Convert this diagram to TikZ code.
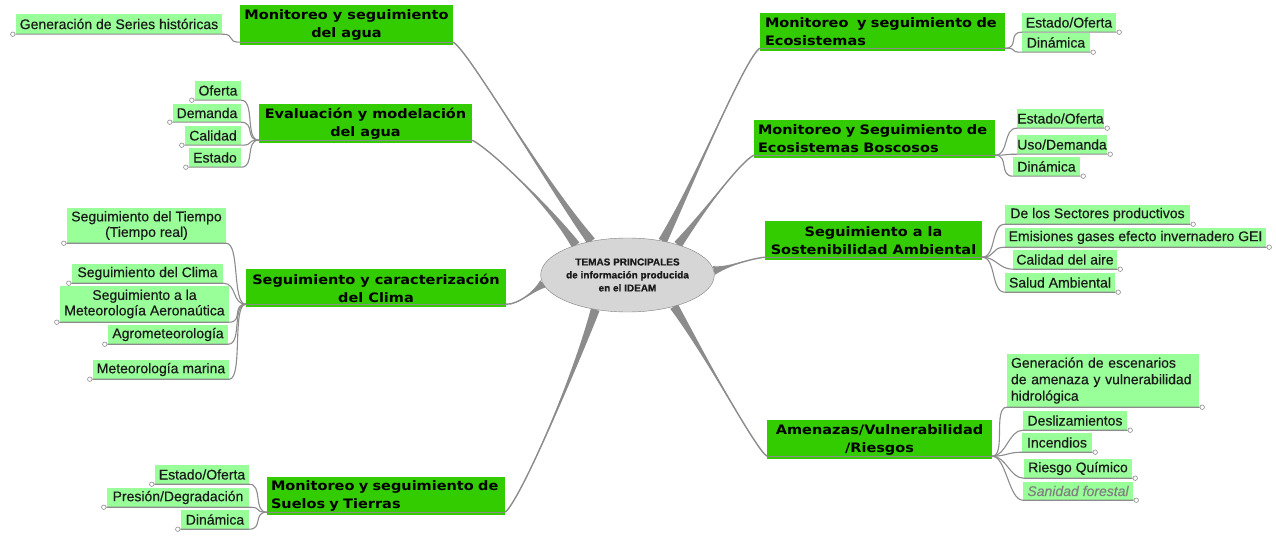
\documentclass[tikz,border=0pt]{standalone}
\usepackage{fontspec}
\setmainfont{Liberation Sans}[FakeBold=0.4]
\newfontfamily\mf{DejaVu Sans}[FakeStretch=1.115]
\usetikzlibrary{calc,shapes.geometric}
\definecolor{mgreen}{HTML}{33CC00}
\definecolor{sgreen}{HTML}{99FF99}
\definecolor{lgray}{HTML}{8C8C8C}
\definecolor{egray}{HTML}{D6D6D6}
\definecolor{txt}{HTML}{1A1A1A}
\pgfdeclarelayer{back}
\pgfdeclarelayer{bg}
\pgfsetlayers{back,bg,main}
\newcommand\brnch[4]{%
  \fill[lgray] ($(#1)!4.5pt!90:(#2)$) .. controls (#2) and (#3) .. (#4) .. controls (#3) and (#2) .. ($(#1)!4.5pt!-90:(#2)$) -- cycle;
  \draw[lgray, line width=1.4pt] (#1) .. controls (#2) and (#3) .. (#4);}
\begin{document}
\begin{tikzpicture}[x=1pt,y=-1pt,
  mainbox/.style={fill=mgreen, inner sep=0pt, font=\mf\bfseries\fontsize{13}{18}\selectfont, text=black},
  subbox/.style={fill=sgreen, inner sep=0pt, font=\fontsize{14}{15.5}\selectfont, text=txt},
  sub/.style={draw=lgray, line width=1.1pt},
  mline/.style={draw=lgray, line width=1.3pt},
  dot/.style={circle, draw=lgray, fill=white, line width=0.6pt, inner sep=0pt, minimum size=4.5pt},
]
\begin{pgfonlayer}{back}
\fill[white] (0,0) rectangle (1276,540);
\end{pgfonlayer}
\useasboundingbox (0,0) rectangle (1276,540);

% centre
\node[ellipse, draw=gray, fill=egray, minimum width=145pt, minimum height=74pt, inner sep=0pt, align=center,
  font=\bfseries\fontsize{10}{13}\selectfont, text=txt] (c) at (627.5,275)
  {TEMAS PRINCIPALES\\de información producida\\en el IDEAM};

% main nodes
\node[mainbox, minimum width=213pt, minimum height=40pt, align=center] (n1) at (346.5,25) {Monitoreo y seguimiento\\del agua};
\node[mainbox, minimum width=213pt, minimum height=39pt, align=center] (n2) at (365.5,123.5) {Evaluación y modelación\\del agua};
\node[mainbox, minimum width=260pt, minimum height=38pt, align=center] (n3) at (376,288) {Seguimiento y caracterización\\del Clima};
\node[mainbox, minimum height=38pt, text width=230pt, inner xsep=4pt, align=left] (n4) at (386,496) {\mbox{Monitoreo y seguimiento de}\\\mbox{Suelos y Tierras}};
\node[mainbox, minimum height=38pt, text width=235pt, inner xsep=5pt, align=left] (n5) at (882.5,32) {\mbox{Monitoreo\ \ y seguimiento de}\\\mbox{Ecosistemas}};
\node[mainbox, minimum height=38pt, text width=233pt, inner xsep=4pt, align=left] (n6) at (874.5,139) {\mbox{Monitoreo y Seguimiento de}\\\mbox{Ecosistemas Boscosos}};
\node[mainbox, minimum width=217pt, minimum height=39pt, align=center] (n7) at (873.5,240.5) {Seguimiento a la\\Sostenibilidad Ambiental};
\node[mainbox, minimum width=225pt, minimum height=39pt, align=center] (n8) at (879.5,439.5) {Amenazas/Vulnerabilidad\\/Riesgos};

\foreach \n in {1,...,8}{
  \coordinate (n\n w) at ($(n\n.south west)+(0pt,3pt)$);
  \coordinate (n\n e) at ($(n\n.south east)+(0pt,3pt)$);
  \draw[mline] (n\n w) -- (n\n e);
}

% tapered branches
\begin{pgfonlayer}{bg}
\brnch{c.137}{540,175}{468,50}{n1e}
\brnch{c.150}{545,200}{488,148}{n2e}
\brnch{c.186}{535,290}{518,305}{n3e}
\brnch{c.227}{572,380}{520,500}{n4e}
\brnch{c.44}{695,180}{745,58}{n5w}
\brnch{c.31}{705,210}{740,162}{n6w}
\brnch{c.3}{725,268}{748,259}{n7w}
\brnch{c.-34}{705,355}{755,448}{n8w}
\end{pgfonlayer}

% sub nodes
\node[subbox, minimum width=206pt, minimum height=20pt] (s11) at (119,24) {Generación de Series históricas};

\node[subbox, minimum width=46pt, minimum height=19pt] (s21) at (218,90.5) {Oferta};
\node[subbox, minimum width=68pt, minimum height=18pt] (s22) at (207,113) {Demanda};
\node[subbox, minimum width=56pt, minimum height=19pt] (s23) at (213,135.5) {Calidad};
\node[subbox, minimum width=52pt, minimum height=19pt] (s24) at (215,157.5) {Estado};

\node[subbox, minimum width=159pt, minimum height=35pt, align=center] (s31) at (146.5,225.5) {Seguimiento del Tiempo\\(Tiempo real)};
\node[subbox, minimum width=151pt, minimum height=19pt] (s32) at (147.5,273.5) {Seguimiento del Clima};
\node[subbox, minimum width=169pt, minimum height=36pt, align=center] (s33) at (144.5,304) {Seguimiento a la\\Meteorología Aeronaútica};
\node[subbox, minimum width=120pt, minimum height=19pt] (s34) at (168,334.5) {Agrometeorología};
\node[subbox, minimum width=136pt, minimum height=19pt] (s35) at (161,369.5) {Meteorología marina};

\node[subbox, minimum width=94pt, minimum height=19pt] (s41) at (202,474.5) {Estado/Oferta};
\node[subbox, minimum width=142pt, minimum height=19pt] (s42) at (178,497.5) {Presión/Degradación};
\node[subbox, minimum width=68pt, minimum height=19pt] (s43) at (215,519.5) {Dinámica};

\node[subbox, minimum width=94pt, minimum height=19pt] (s51) at (1069,22.5) {Estado/Oferta};
\node[subbox, minimum width=68pt, minimum height=19pt] (s52) at (1056,42.5) {Dinámica};

\node[subbox, minimum width=87pt, minimum height=19pt] (s61) at (1060.5,118.5) {Estado/Oferta};
\node[subbox, minimum width=90pt, minimum height=19pt] (s62) at (1062,144.5) {Uso/Demanda};
\node[subbox, minimum width=67pt, minimum height=19pt] (s63) at (1046.5,166.5) {Dinámica};

\node[subbox, minimum width=185pt, minimum height=19pt] (s71) at (1097.5,214.5) {De los Sectores productivos};
\node[subbox, minimum width=261pt, minimum height=19pt] (s72) at (1135.5,237.5) {Emisiones gases efecto invernadero GEI};
\node[subbox, minimum width=104pt, minimum height=19pt] (s73) at (1065,259.5) {Calidad del aire};
\node[subbox, minimum width=110pt, minimum height=19pt] (s74) at (1060,282.5) {Salud Ambiental};

\node[subbox, minimum height=53pt, text width=184pt, inner xsep=4pt, align=left, font=\fontsize{14}{16.5}\selectfont] (s81) at (1103,380.5) {Generación de escenarios\\de amenaza y vulnerabilidad\\hidrológica};
\node[subbox, minimum width=104pt, minimum height=19pt] (s82) at (1075,420.5) {Deslizamientos};
\node[subbox, minimum width=70pt, minimum height=19pt] (s83) at (1057,442.5) {Incendios};
\node[subbox, minimum width=108pt, minimum height=19pt] (s84) at (1078,468.5) {Riesgo Químico};
\node[subbox, minimum width=110pt, minimum height=18pt, text=gray, font=\itshape\fontsize{14}{15.5}\selectfont] (s85) at (1078,491) {Sanidad forestal};

% left-side sub connectors
\foreach \s/\m in {s11/n1, s21/n2, s22/n2, s23/n2, s24/n2, s31/n3, s32/n3, s33/n3, s34/n3, s35/n3, s41/n4, s42/n4, s43/n4}{
  \node[dot] (\s d) at ($(\s.south west)+(-3pt,0pt)$) {};
  \draw[sub] (\m w) .. controls +(-14,0) and +(14,0) .. (\s.south east) -- (\s d);
}
% right-side sub connectors
\foreach \s/\m in {s51/n5, s52/n5, s61/n6, s62/n6, s63/n6, s71/n7, s72/n7, s73/n7, s74/n7, s81/n8, s82/n8, s83/n8, s84/n8, s85/n8}{
  \node[dot] (\s d) at ($(\s.south east)+(3pt,0pt)$) {};
  \draw[sub] (\m e) .. controls +(14,0) and +(-14,0) .. (\s.south west) -- (\s d);
}
\end{tikzpicture}
\end{document}
